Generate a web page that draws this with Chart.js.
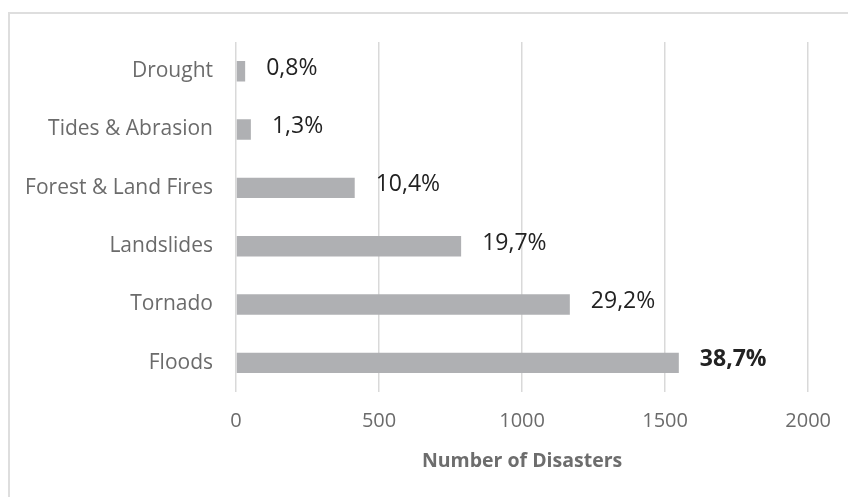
<!DOCTYPE html>
<html>
<head>
<meta charset="utf-8">
<script src="https://cdn.jsdelivr.net/npm/chart.js@4.4.0/dist/chart.umd.min.js"></script>
<style>
  html, body { margin: 0; padding: 0; background: #fff; overflow: hidden; }
  #frame {
    position: absolute; left: 8px; top: 12px; width: 900px; height: 600px;
    border-top: 2px solid #dedede; border-left: 2px solid #dedede;
  }
  #disasterChart { position: absolute; left: 0; top: 0; }
</style>
</head>
<body>
<div id="frame"></div>
<canvas id="disasterChart" width="848" height="497"></canvas>
<script>
// disaster types, top to bottom
const categories = ["Drought", "Tides & Abrasion", "Forest & Land Fires", "Landslides", "Tornado", "Floods"];
// number of disasters per type
const disasterCounts = [32, 52, 415, 787, 1167, 1548];
const xTicks = [0, 500, 1000, 1500, 2000];

const total = disasterCounts.reduce((a, b) => a + b, 0);
const shareLabels = disasterCounts.map(v => (v / total * 100).toFixed(1).replace(".", ",") + "%");
const maxIndex = disasterCounts.indexOf(Math.max(...disasterCounts));

// percentage label to the right of each bar, largest one in bold
const shareLabelPlugin = {
    id: "shareLabels",
    afterDatasetsDraw(chart) {
        const ctx = chart.ctx;
        const bars = chart.getDatasetMeta(0).data;
        ctx.save();
        ctx.textAlign = "left";
        ctx.textBaseline = "middle";
        ctx.fillStyle = "#222222";
        bars.forEach((bar, i) => {
            ctx.font = (i === maxIndex ? "bold " : "") + "23px 'Open Sans'";
            ctx.fillText(shareLabels[i], bar.x + 21, bar.y - 3);
        });
        ctx.restore();
    }
};

const ctx = document.getElementById("disasterChart").getContext("2d");
new Chart(ctx, {
    type: "bar",
    data: {
        labels: categories,
        datasets: [{
            data: disasterCounts,
            backgroundColor: "#afb0b3",
            borderWidth: 0,
            barPercentage: 0.35,
            categoryPercentage: 1,
        }],
    },
    options: {
        indexAxis: "y",
        responsive: false,
        animation: false,
        devicePixelRatio: 1,
        layout: {
            padding: { left: 0, top: 42, right: 38, bottom: 0 },
        },
        plugins: {
            legend: { display: false },
            tooltip: { enabled: false },
        },
        scales: {
            x: {
                min: 0,
                max: 2000,
                afterBuildTicks: scale => {
                    scale.ticks = xTicks.map(v => ({ value: v }));
                },
                afterFit: scale => { scale.height = 105; },
                grid: { color: "#d9d9d9", lineWidth: 1.5, drawTicks: false },
                border: { display: false },
                ticks: {
                    padding: 17,
                    color: "#6b6b6b",
                    font: { family: "'Open Sans'", size: 20 },
                    callback: v => String(v),
                },
                title: {
                    display: true,
                    text: "Number of Disasters",
                    color: "#6d6d6d",
                    font: { family: "'Open Sans'", size: 19.5, weight: "bold" },
                    padding: { top: 0, bottom: 24 },
                },
            },
            y: {
                afterFit: scale => { scale.width = 236; },
                grid: { display: false, drawTicks: false },
                border: { display: false },
                ticks: {
                    padding: 23,
                    color: "#6b6b6b",
                    font: { family: "'Open Sans'", size: 21 },
                },
            },
        },
    },
    plugins: [shareLabelPlugin],
});
</script>
</body>
</html>
